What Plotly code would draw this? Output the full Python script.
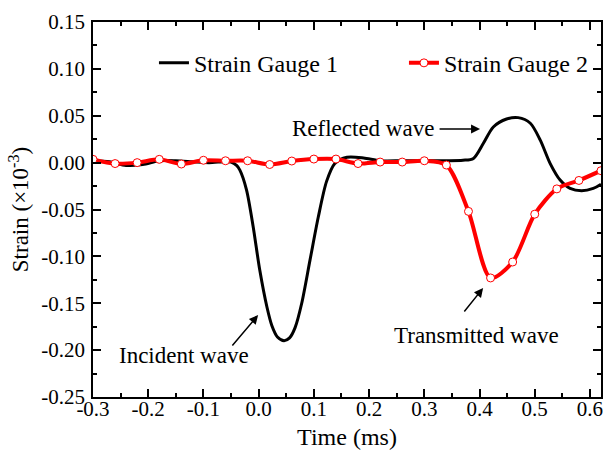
import plotly.graph_objects as go

# Strain Gauge 1 (black curve)
t1 = [-0.30, -0.27, -0.24, -0.21, -0.18, -0.15, -0.12, -0.09, -0.06, -0.05, -0.04,
      -0.034, -0.022, -0.010, 0.002, 0.015, 0.024, 0.034, 0.046, 0.056, 0.066, 0.078, 0.093, 0.108,
      0.123, 0.138, 0.160, 0.19, 0.22, 0.26, 0.30, 0.34, 0.37, 0.389, 0.407, 0.425,
      0.449, 0.470, 0.492, 0.510, 0.528, 0.546, 0.564, 0.585, 0.606, 0.62]
s1 = [0.002, 0.001, -0.003, -0.002, 0.002, 0.002, 0.001, 0.0, 0.001, 0.0005, -0.003,
      -0.008, -0.029, -0.068, -0.1146, -0.154, -0.174, -0.186, -0.190, -0.187, -0.176, -0.150, -0.104, -0.058,
      -0.020, -0.001, 0.0057, 0.005, 0.002, 0.002, 0.002, 0.002, 0.0025, 0.0045, 0.0206, 0.038,
      0.0465, 0.048, 0.042, 0.024, -0.001, -0.0186, -0.0275, -0.030, -0.0275, -0.023]

# Strain Gauge 2 (red curve with markers)
t2 = [-0.30, -0.26, -0.22, -0.18, -0.14, -0.10, -0.06, -0.02, 0.02, 0.06, 0.10, 0.14,
      0.18, 0.22, 0.26, 0.30, 0.34, 0.38, 0.42, 0.46, 0.50, 0.54, 0.58, 0.62]
s2 = [0.0035, -0.001, 0.0, 0.0035, -0.0015, 0.0025, 0.002, 0.002, -0.002, 0.0017, 0.0038, 0.0038,
      -0.001, 0.0006, 0.0006, 0.002, -0.0026, -0.052, -0.123, -0.106, -0.055, -0.028, -0.019, -0.0086]

x_ticks = [-0.3, -0.2, -0.1, 0.0, 0.1, 0.2, 0.3, 0.4, 0.5, 0.6]
x_labels = ["-0.3", "-0.2", "-0.1", "0.0", "0.1", "0.2", "0.3", "0.4", "0.5", "0.6"]
y_ticks = [0.15, 0.10, 0.05, 0.0, -0.05, -0.10, -0.15, -0.20, -0.25]
y_labels = ["0.15", "0.10", "0.05", "0.00", "-0.05", "-0.10", "-0.15", "-0.20", "-0.25"]

FONT = "Liberation Serif, Times New Roman, serif"

fig = go.Figure()
fig.add_trace(go.Scatter(x=t1, y=s1, mode="lines", name="Strain Gauge 1", legendwidth=205,
                         line=dict(color="black", width=3, shape="spline", smoothing=0.8)))
fig.add_trace(go.Scatter(x=t2, y=s2, mode="lines+markers", name="Strain Gauge 2", legendwidth=150,
                         line=dict(color="#ff0000", width=4, shape="spline", smoothing=0.8),
                         marker=dict(size=8, color="white", line=dict(color="#ff0000", width=1))))

axis_common = dict(showline=True, linecolor="black", linewidth=1.5, mirror="allticks",
                   ticks="inside", ticklen=8, tickwidth=1.5, tickcolor="black",
                   showgrid=False, zeroline=False, automargin=False,
                   tickfont=dict(family=FONT, size=21, color="black"))

fig.update_xaxes(range=[-0.3, 0.62], tickvals=x_ticks, ticktext=x_labels, ticklabelstandoff=-8,
                 minor=dict(ticks="inside", ticklen=4, tickwidth=1.5, tickcolor="black", dtick=0.05, tick0=0),
                 title=dict(text="Time (ms)", font=dict(family=FONT, size=24, color="black"), standoff=8),
                 **axis_common)
fig.update_yaxes(range=[-0.25, 0.15], tickvals=y_ticks, ticktext=y_labels, ticklabelstandoff=2,
                 minor=dict(ticks="inside", ticklen=4, tickwidth=1.5, tickcolor="black", dtick=0.025, tick0=0),
                 title=dict(text="Strain (×10<sup>-3</sup>)", font=dict(family=FONT, size=23, color="black"), standoff=6),
                 **axis_common)

# text labels
ann_font = dict(family=FONT, size=23, color="black")
fig.add_annotation(x=0.189, y=0.0369, text="Reflected wave", showarrow=False, font=ann_font)
fig.add_annotation(x=-0.136, y=-0.206, text="Incident wave", showarrow=False, font=ann_font)
fig.add_annotation(x=0.394, y=-0.184, text="Transmitted wave", showarrow=False, font=ann_font)
# arrows
for hx, hy, ax, ay in [(0.401, 0.0358, -42, 0), (-0.001, -0.1626, -27, 32), (0.4065, -0.1338, -20, 25)]:
    fig.add_annotation(x=hx, y=hy, ax=ax, ay=ay, text="", showarrow=True,
                       arrowhead=2, arrowsize=1.2, arrowwidth=1.5, arrowcolor="black", standoff=0)

fig.update_layout(
    width=604, height=465,
    margin=dict(l=93, r=3, t=22, b=68),
    paper_bgcolor="white", plot_bgcolor="white",
    font=dict(family=FONT, color="black"),
    legend=dict(orientation="h", x=0.12, y=0.89, xanchor="left", yanchor="middle",
                bgcolor="rgba(0,0,0,0)", font=dict(family=FONT, size=24, color="black"),
                itemwidth=30),
)

# remove the default page margin so the 604x465 figure fills the window exactly
fig.write_html("out.html", config={"displayModeBar": False},
               post_script="document.body.style.margin='0';document.body.style.overflow='hidden';")
